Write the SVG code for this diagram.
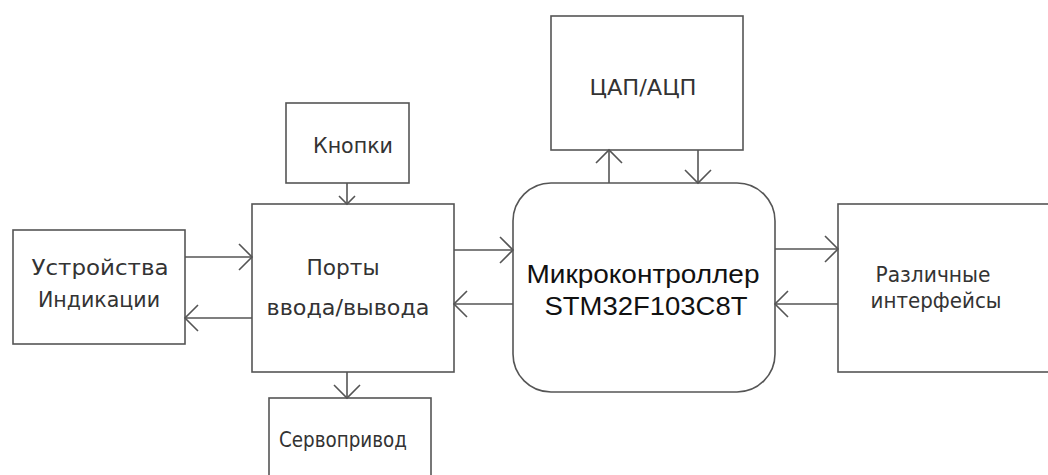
<svg xmlns="http://www.w3.org/2000/svg" width="1048" height="475" viewBox="0 0 1048 475">
<style>
.box{fill:#fff;stroke:#555;stroke-width:1.6}
.ln{fill:none;stroke:#555;stroke-width:1.6;marker-end:url(#ah)}
.sm{marker-end:url(#ahs)}
.g{font-family:"DejaVu Sans","Liberation Sans",sans-serif;font-size:22px;fill:#333;text-anchor:middle}
.m{font-family:"Liberation Sans",Arial,sans-serif;font-size:26px;fill:#111;text-anchor:middle}
</style>
<defs>
<marker id="ah" markerUnits="userSpaceOnUse" markerWidth="30" markerHeight="30" refX="0" refY="0" viewBox="-15 -15 30 30" orient="auto" overflow="visible">
<path d="M-13,-13 L0,0 L-13,13" fill="none" stroke="#555" stroke-width="1.6"/>
</marker>
<marker id="ahs" markerUnits="userSpaceOnUse" markerWidth="30" markerHeight="30" refX="0" refY="0" viewBox="-15 -15 30 30" orient="auto" overflow="visible">
<path d="M-8,-8 L0,0 L-8,8" fill="none" stroke="#555" stroke-width="1.6"/>
</marker>
</defs>
<rect width="1048" height="475" fill="#fff"/>
<g id="knopki"><rect class="box" x="286" y="103" width="123" height="80"/><text class="g" x="353" y="153" textLength="80" lengthAdjust="spacingAndGlyphs">Кнопки</text></g>
<g id="ustr"><rect class="box" x="13" y="230" width="172" height="114"/><text class="g" x="100" y="275" textLength="137" lengthAdjust="spacingAndGlyphs">Устройства</text><text class="g" x="99" y="307" textLength="122" lengthAdjust="spacingAndGlyphs">Индикации</text></g>
<g id="porty"><rect class="box" x="252" y="204" width="202" height="168"/><text class="g" x="343" y="275" textLength="73" lengthAdjust="spacingAndGlyphs">Порты</text><text class="g" x="348" y="315" textLength="163" lengthAdjust="spacingAndGlyphs">ввода/вывода</text></g>
<g id="servo"><rect class="box" x="269" y="398" width="162" height="90"/><text class="g" x="343" y="447" textLength="128" lengthAdjust="spacingAndGlyphs">Сервопривод</text></g>
<g id="cap"><rect class="box" x="551" y="16" width="192" height="134"/><text class="g" x="643" y="95" textLength="107" lengthAdjust="spacingAndGlyphs">ЦАП/АЦП</text></g>
<g id="mcu"><rect class="box" x="513" y="183" width="262" height="209" rx="38" ry="38"/><text class="m" x="643" y="283" textLength="233" lengthAdjust="spacingAndGlyphs">Микроконтроллер</text><text class="m" x="646" y="315" textLength="203" lengthAdjust="spacingAndGlyphs">STM32F103C8T</text></g>
<g id="iface"><rect class="box" x="838" y="204" width="220" height="168"/><text class="g" x="933" y="282" textLength="115" lengthAdjust="spacingAndGlyphs">Различные</text><text class="g" x="936" y="308" textLength="131" lengthAdjust="spacingAndGlyphs">интерфейсы</text></g>
<g id="connectors">
<line class="ln sm" x1="347" y1="183" x2="347" y2="204"/>
<line class="ln" x1="185" y1="257" x2="252" y2="257"/>
<line class="ln" x1="252" y1="318" x2="185" y2="318"/>
<line class="ln" x1="347" y1="372" x2="347" y2="398"/>
<line class="ln" x1="454" y1="250" x2="513" y2="250"/>
<line class="ln" x1="513" y1="304" x2="454" y2="304"/>
<line class="ln" x1="609" y1="183" x2="609" y2="150"/>
<line class="ln" x1="698" y1="150" x2="698" y2="183"/>
<line class="ln" x1="775" y1="249" x2="838" y2="249"/>
<line class="ln" x1="838" y1="304" x2="775" y2="304"/>
</g>
</svg>
